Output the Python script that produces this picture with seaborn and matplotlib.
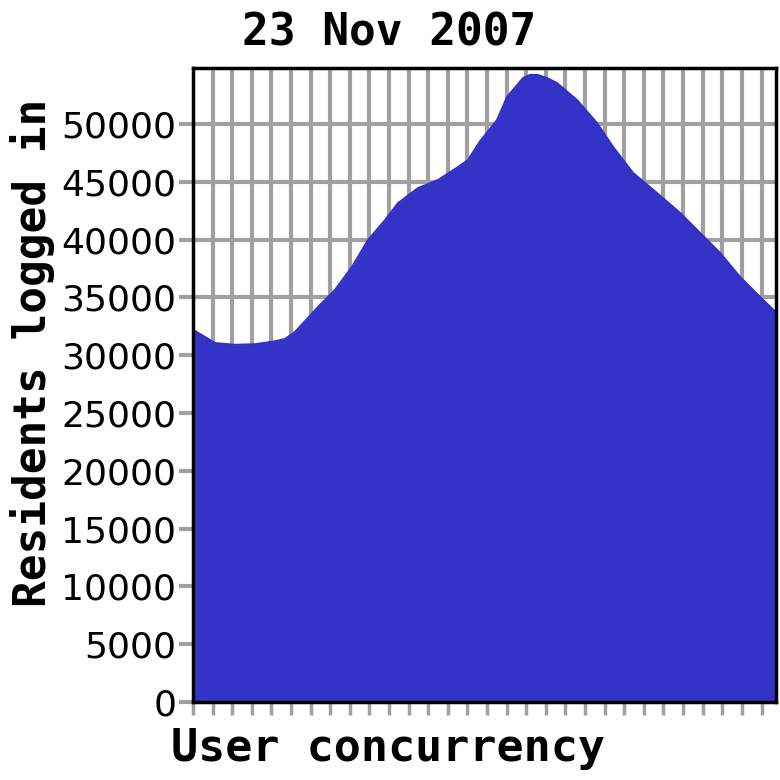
import numpy as np
import matplotlib
matplotlib.use("Agg")
import matplotlib.pyplot as plt
import seaborn as sns

# x in grid steps across the day, y = residents logged in
steps = [0, 1.12, 2.14, 3.16, 4.18, 4.69, 5.2, 6.38, 7.24, 8.11, 8.93, 9.8,
         10.46, 11.48, 12.5, 13.52, 14.03, 14.64, 15.51, 16.02, 16.84, 17.2,
         17.6, 18.1, 18.57, 19.59, 20.61, 21.43, 22.45, 23.67, 24.85, 25.87,
         26.89, 27.91, 28.93, 29.74]
residents = [32200, 31050, 30900, 30950, 31200, 31400, 32000, 34170, 35640,
             37630, 39960, 41690, 43160, 44460, 45150, 46280, 46880, 48500,
             50340, 52330, 53980, 54250, 54240, 53950, 53540, 52070, 50080,
             48010, 45760, 44030, 42300, 40570, 38840, 36760, 35030, 33700]
yticks = list(range(0, 50001, 5000))

sns.set_style("white")
plt.rcParams["text.color"] = "black"
plt.rcParams["ytick.color"] = "black"
fig = plt.figure(figsize=(7.8, 7.8), dpi=100)
ax = fig.add_axes([0.2474, 0.1, 0.7475, 0.8128])

grid_col = "#a0a0a0"
for v in np.arange(1, 30):
    ax.axvline(v, color=grid_col, lw=3, zorder=1)
for v in yticks[1:]:
    ax.axhline(v, color=grid_col, lw=3, zorder=1)

sns.lineplot(x=steps, y=residents, ax=ax, color="#3030c8", lw=1.5, zorder=3)
ax.fill_between(steps, residents, 0, color="#3333c8", lw=0, zorder=2)

ax.set_xlim(0, 29.74)
ax.set_ylim(0, 54850)
ax.set_xticks(np.arange(0, 30))
ax.set_xticklabels([])
ax.set_yticks(yticks)
ax.set_yticklabels([str(t) for t in yticks], fontsize=26, family="DejaVu Sans",
                   color="black")
ax.tick_params(axis="x", bottom=True, length=9, width=2.5, color=grid_col,
               direction="out")
ax.tick_params(axis="y", left=True, length=10, width=3, color=grid_col,
               direction="out", pad=2)

for s in ax.spines.values():
    s.set_color("black")
    s.set_linewidth(2.5)
    s.set_zorder(5)

fig.text(0.499, 0.942, "23 Nov 2007", fontsize=32, fontweight="bold",
         family="DejaVu Sans Mono", ha="center", va="baseline")
fig.text(0.042, 0.547, "Residents logged in", fontsize=32, fontweight="bold",
         family="DejaVu Sans Mono", ha="center", va="center", rotation=90)
fig.text(0.497, 0.024, "User concurrency", fontsize=32.5, fontweight="bold",
         family="DejaVu Sans Mono", ha="center", va="baseline")

fig.savefig("out.png", dpi=100)
